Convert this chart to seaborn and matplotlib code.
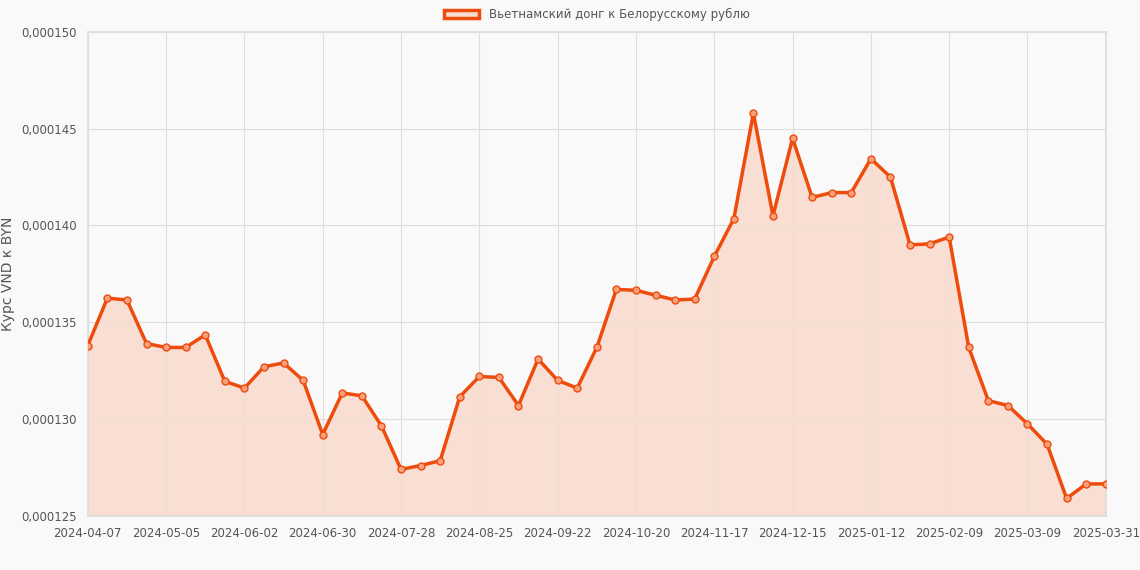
import matplotlib
matplotlib.use("Agg")
import matplotlib.pyplot as plt
import seaborn as sns
import pandas as pd
import numpy as np
from matplotlib.patches import Patch
from matplotlib.ticker import FuncFormatter

dates = list(pd.date_range("2024-04-07", periods=52, freq="7D").strftime("%Y-%m-%d")) + ["2025-03-31"]
rates_e6 = [133.8, 136.25, 136.15, 133.9, 133.7, 133.7, 134.35, 131.95, 131.6, 132.7,
            132.9, 132.0, 129.2, 131.35, 131.2, 129.65, 127.4, 127.6, 127.85, 131.15,
            132.2, 132.15, 130.7, 133.1, 132.0, 131.6, 133.7, 136.7, 136.65, 136.4,
            136.15, 136.2, 138.4, 140.35, 145.8, 140.5, 144.5, 141.45, 141.7, 141.7,
            143.45, 142.5, 139.0, 139.05, 139.4, 133.7, 130.95, 130.7, 129.75, 128.7,
            125.9, 126.65, 126.65]
rates = [v * 1e-6 for v in rates_e6]
label = "Вьетнамский донг к Белорусскому рублю"
color = "#ee4c0c"

df = pd.DataFrame({"x": range(len(dates)), "y": rates})
sns.set_theme(style="whitegrid")
plt.rcParams["font.family"] = ["DejaVu Sans"]
fig, ax = plt.subplots(figsize=(11.4, 5.7), dpi=100)
fig.patch.set_facecolor("#f9f9f9")
ax.set_facecolor("#f9f9f9")
fig.subplots_adjust(left=0.077, right=0.97, top=0.944, bottom=0.095)

ax.fill_between(df["x"], df["y"], 0.000125, color="#f8dccf", alpha=0.9, zorder=1)
sns.lineplot(data=df, x="x", y="y", ax=ax, color=color, linewidth=2.5, zorder=3,
             marker="o", markersize=5, markerfacecolor="#f7a07c", markeredgecolor=color,
             markeredgewidth=1)
ax.set_ylim(0.000125, 0.000150)
ax.set_xlim(0, len(dates) - 1)
ax.set_yticks([0.000125, 0.000130, 0.000135, 0.000140, 0.000145, 0.000150])
ax.yaxis.set_major_formatter(FuncFormatter(lambda v, p: f"{v:.6f}".replace(".", ",")))
ticks = list(range(0, len(dates) - 1, 4)) + [len(dates) - 1]
ax.set_xticks(ticks)
ax.set_xticklabels([dates[i] for i in ticks])
ax.tick_params(labelsize=8.5, colors="#555555", pad=2)
ax.grid(color="#dddddd", linewidth=0.8)
for s in ax.spines.values():
    s.set_color("#dddddd")
ax.set_xlabel("")
ax.set_ylabel("Курс VND к BYN", fontsize=10, color="#555555")
ax.legend(handles=[Patch(facecolor="#f8dccf", edgecolor=color, linewidth=2.5, label=label)],
          loc="lower center", bbox_to_anchor=(0.5, 1.0), frameon=False, fontsize=8.5,
          handlelength=3, labelcolor="#555555")
fig.savefig("out.png", facecolor=fig.get_facecolor())
